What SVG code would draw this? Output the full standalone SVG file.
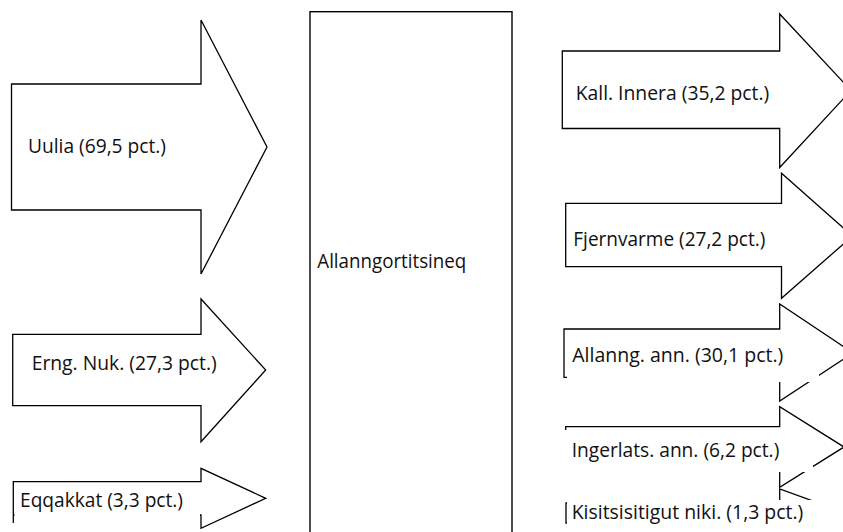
<svg xmlns="http://www.w3.org/2000/svg" width="843" height="532" viewBox="0 0 843 532">
<style>
.arrow{fill:#fff;stroke:#000;stroke-width:1.3;stroke-linejoin:miter}
.box{fill:#fff;stroke:none}
.lbl{font-family:"Open Sans","Noto Sans","Liberation Sans",sans-serif;font-size:20px;fill:#111}
</style>
<rect width="843" height="532" fill="#fff"/>
<g id="connectors"/>
<g id="uulia">
<polygon class="arrow" points="11.5,84 201,84 201,20 267,147 201,274 201,210 11.5,210"/>
<text class="lbl" x="28" y="153" textLength="138" lengthAdjust="spacingAndGlyphs">Uulia (69,5 pct.)</text>
</g>
<g id="erng-nuk">
<polygon class="arrow" points="12.7,334.3 201,334.3 201,299 265.7,370 201,441.7 201,405.7 12.7,405.7"/>
<text class="lbl" x="31.7" y="369.5" textLength="185" lengthAdjust="spacingAndGlyphs">Erng. Nuk. (27,3 pct.)</text>
</g>
<g id="eqqakkat">
<polygon class="arrow" points="13.3,481.7 201,481.7 201,468.3 265.7,498.3 201,528.3 201,515 13.3,515 13.3,523"/>
<rect class="box" x="14.5" y="484" width="185.5" height="34"/>
<text class="lbl" x="20" y="506.5" textLength="163" lengthAdjust="spacingAndGlyphs">Eqqakkat (3,3 pct.)</text>
</g>
<g id="allanngortitsineq">
<rect x="310" y="11.7" width="202" height="530" fill="#fff" stroke="#000" stroke-width="1.4"/>
<text class="lbl" x="317.3" y="268" textLength="149" lengthAdjust="spacingAndGlyphs">Allanngortitsineq</text>
</g>
<g id="kall-innera">
<polygon class="arrow" points="562.3,51 779.7,51 779.7,14 851,90.5 779.7,167.5 779.7,128.5 562.3,128.5"/>
<text class="lbl" x="575.7" y="99.5" textLength="193.6" lengthAdjust="spacingAndGlyphs">Kall. Innera (35,2 pct.)</text>
</g>
<g id="fjernvarme">
<polygon class="arrow" points="565.7,203.3 781.5,203.3 781.5,173.3 852.5,236 781.5,298.3 781.5,266.7 565.7,266.7"/>
<text class="lbl" x="573.3" y="246" textLength="192" lengthAdjust="spacingAndGlyphs">Fjernvarme (27,2 pct.)</text>
</g>
<g id="allanng-ann">
<polygon class="arrow" points="564,329 779.7,329 779.7,304 853,353 779.7,401 779.7,377.3 564,377.3"/>
<rect class="box" x="567" y="333" width="252" height="49"/>
<text class="lbl" x="572.3" y="361.5" textLength="211" lengthAdjust="spacingAndGlyphs">Allanng. ann. (30,1 pct.)</text>
</g>
<g id="ingerlats-ann">
<polygon class="arrow" points="565.7,426.7 779.7,426.7 779.7,406.7 844,447 779.7,487.3 779.7,467.3 565.7,467.3"/>
<rect class="box" x="564" y="430" width="249" height="42"/>
<text class="lbl" x="571.7" y="456.5" textLength="207.6" lengthAdjust="spacingAndGlyphs">Ingerlats. ann. (6,2 pct.)</text>
</g>
<g id="kisitsisitigut-niki">
<polygon class="arrow" points="566,503 779.7,503 779.7,489 846,513 779.7,537 779.7,523 566,523"/>
<rect class="box" x="567" y="500" width="276" height="32"/>
<text class="lbl" x="571.7" y="519" textLength="231.6" lengthAdjust="spacingAndGlyphs">Kisitsisitigut niki. (1,3 pct.)</text>
</g>
</svg>
